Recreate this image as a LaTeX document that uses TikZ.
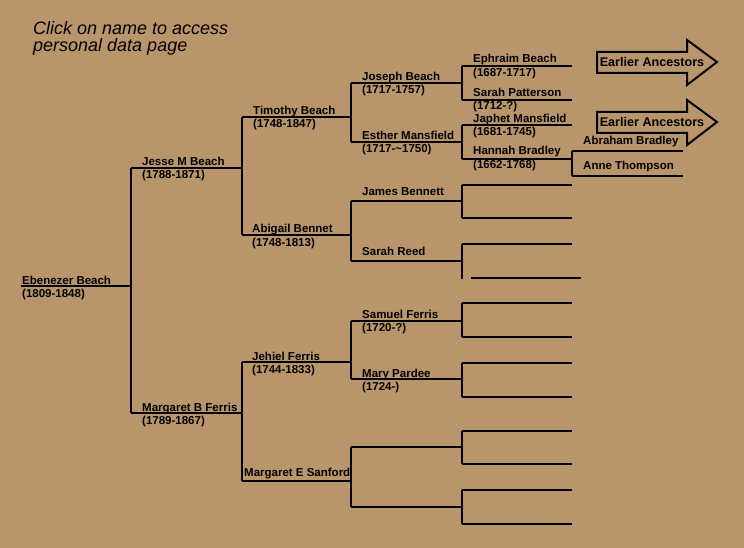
\documentclass[tikz,border=0pt]{standalone}
\usepackage{fontspec}
\setmainfont{Liberation Sans}
\definecolor{bg}{RGB}{184,149,106}
\begin{document}
\begin{tikzpicture}[x=1pt,y=-1pt,
  ln/.style={line width=1.2pt,black},
  thk/.style={line width=2pt,black},
  nm/.style={anchor=base west,inner sep=0pt,font=\bfseries\fontsize{11.5}{13}\selectfont},
  arrowbox/.style={line width=2pt,black,line join=miter},
  arrtxt/.style={inner sep=0pt,font=\bfseries\fontsize{12.6}{14}\selectfont},
  ttl/.style={anchor=base west,inner sep=0pt,font=\itshape\fontsize{18}{18}\selectfont}]
\fill[bg] (0,0) rectangle (744,548);
\useasboundingbox (0,0) rectangle (744,548);
% title
\node[ttl] (t1) at (33,35) {Click on name to access};
\node[ttl] (t2) at (33,52) {personal data page};
% ---- coordinates
\coordinate (e0) at (21,286);   \coordinate (e1) at (131,286);
\coordinate (j0) at (131,168);  \coordinate (j1) at (242,168);
\coordinate (m0) at (131,413);  \coordinate (m1) at (242,413);
\coordinate (ti0) at (242,117); \coordinate (ti1) at (351,117);
\coordinate (ab0) at (242,235); \coordinate (ab1) at (351,235);
\coordinate (je0) at (242,362); \coordinate (je1) at (351,362);
\coordinate (ms0) at (242,481); \coordinate (ms1) at (351,481);
\coordinate (jo0) at (351,83);  \coordinate (jo1) at (462,83);
\coordinate (es0) at (351,142); \coordinate (es1) at (462,142);
\coordinate (ja0) at (351,201); \coordinate (ja1) at (462,201);
\coordinate (sr0) at (351,261); \coordinate (sr1) at (462,261);
\coordinate (sa0) at (351,321); \coordinate (sa1) at (462,321);
\coordinate (mp0) at (351,379); \coordinate (mp1) at (462,379);
\coordinate (b10) at (351,447); \coordinate (b11) at (462,447);
\coordinate (b20) at (351,507); \coordinate (b21) at (462,507);
% gen 4
\coordinate (ep0) at (462,66);  \coordinate (ep1) at (572,66);
\coordinate (sp0) at (462,100); \coordinate (sp1) at (572,100);
\coordinate (jm0) at (462,125); \coordinate (jm1) at (572,125);
\coordinate (hb0) at (462,159); \coordinate (hb1) at (572,159);
\coordinate (q10) at (462,185); \coordinate (q11) at (572,185);
\coordinate (q20) at (462,218); \coordinate (q21) at (572,218);
\coordinate (q30) at (462,244); \coordinate (q31) at (572,244);
\coordinate (q4v) at (462,279); \coordinate (q40) at (471,278); \coordinate (q41) at (581,278);
\coordinate (q50) at (462,303); \coordinate (q51) at (572,303);
\coordinate (q60) at (462,337); \coordinate (q61) at (572,337);
\coordinate (q70) at (462,363); \coordinate (q71) at (572,363);
\coordinate (q80) at (462,397); \coordinate (q81) at (572,397);
\coordinate (q90) at (462,431); \coordinate (q91) at (572,431);
\coordinate (qa0) at (462,464); \coordinate (qa1) at (572,464);
\coordinate (qb0) at (462,490); \coordinate (qb1) at (572,490);
\coordinate (qc0) at (462,524); \coordinate (qc1) at (572,524);
% gen 5
\coordinate (ar0) at (572,151); \coordinate (ar1) at (683,151);
\coordinate (an0) at (572,176); \coordinate (an1) at (683,176);
% ---- lines
\draw[ln] (e0) -- (e1);
\draw[ln] (j0) -- (m0);
\draw[thk] (j0) -- (j1);
\draw[ln] (m0) -- (m1);
\draw[ln] (ti0) -- (ab0);
\draw[ln] (ti0) -- (ti1);
\draw[ln] (ab0) -- (ab1);
\draw[ln] (je0) -- (ms0);
\draw[thk] (je0) -- (je1);
\draw[ln] (ms0) -- (ms1);
\foreach \a/\b in {jo/es,ja/sr,sa/mp,b1/b2}{
  \draw[ln] (\a0) -- (\b0);
  \draw[ln] (\a0) -- (\a1);
  \draw[ln] (\b0) -- (\b1);
}
\foreach \a/\b in {ep/sp,jm/hb,q1/q2,q5/q6,q9/qa,qb/qc}{
  \draw[ln] (\a0) -- (\b0);
  \draw[ln] (\a0) -- (\a1);
  \draw[ln] (\b0) -- (\b1);
}
\draw[ln] (q30) -- (q4v);
\draw[ln] (q30) -- (q31);
\draw[ln] (q40) -- (q41);
\draw[ln] (q70) -- (q80);
\draw[thk] (q70) -- (q71);
\draw[ln] (q80) -- (q81);
\draw[ln] (ar0) -- (an0);
\draw[ln] (ar0) -- (ar1);
\draw[ln] (an0) -- (an1);
% ---- names
\node[nm] (n0) at (22,284) {Ebenezer Beach};
\node[nm] (d0) at (22,297) {(1809-1848)};
\node[nm] (n1) at (142,166) {Jesse M Beach};
\node[nm] (d1) at (142,179) {(1788-1871)};
\node[nm] (n2) at (142,411) {Margaret B Ferris};
\node[nm] (d2) at (142,424) {(1789-1867)};
\node[nm] (n3) at (253,115) {Timothy Beach};
\node[nm] (d3) at (253,128) {(1748-1847)};
\node[nm] (n4) at (252,233) {Abigail Bennet};
\node[nm] (d4) at (252,246) {(1748-1813)};
\node[nm] (n5) at (252,360) {Jehiel Ferris};
\node[nm] (d5) at (252,373) {(1744-1833)};
\node[nm] (n6) at (244,476) {Margaret E Sanford};
\node[nm] (n7) at (362,81) {Joseph Beach};
\node[nm] (d7) at (362,94) {(1717-1757)};
\node[nm] (n8) at (362,140) {Esther Mansfield};
\node[nm] (d8) at (362,153) {(1717-\textasciitilde1750)};
\node[nm] (n9) at (362,196) {James Bennett};
\node[nm] (n10) at (362,255) {Sarah Reed};
\node[nm] (n11) at (362,318) {Samuel Ferris};
\node[nm] (d11) at (362,331) {(1720-?)};
\node[nm] (n12) at (362,377) {Mary Pardee};
\node[nm] (d12) at (362,390) {(1724-)};
\node[nm] (n13) at (473,63) {Ephraim Beach};
\node[nm] (d13) at (473,77) {(1687-1717)};
\node[nm] (n14) at (473,97) {Sarah Patterson};
\node[nm] (d14) at (473,110) {(1712-?)};
\node[nm] (n15) at (473,123) {Japhet Mansfield};
\node[nm] (d15) at (473,136) {(1681-1745)};
\node[nm] (n16) at (473,155) {Hannah Bradley};
\node[nm] (d16) at (473,169) {(1662-1768)};
\node[nm] (n17) at (583,145) {Abraham Bradley};
\node[nm] (n18) at (583,170) {Anne Thompson};
% ---- arrows
\draw[arrowbox] (597,52) -- (687,52) -- (687,40) -- (717,62) -- (687,85) -- (687,73) -- (597,73) -- cycle;
\node[arrtxt] (ea1) at (652,62) {Earlier Ancestors};
\draw[arrowbox] (597,112) -- (687,112) -- (687,100) -- (717,122) -- (687,145) -- (687,133) -- (597,133) -- cycle;
\node[arrtxt] (ea2) at (652,122) {Earlier Ancestors};
\end{tikzpicture}
\end{document}
